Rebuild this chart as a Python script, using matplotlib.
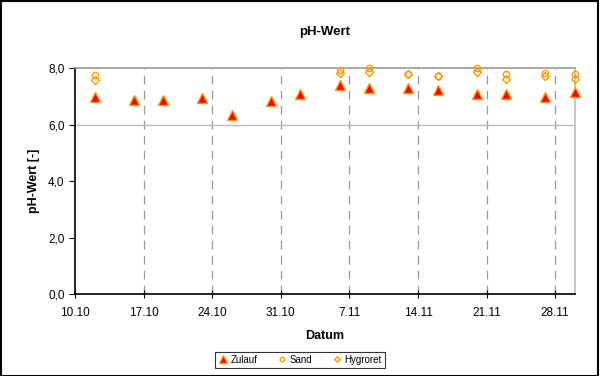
from datetime import datetime

import matplotlib

matplotlib.use("Agg")
import matplotlib.dates as mdates
import matplotlib.pyplot as plt
from matplotlib.patches import Rectangle

zulauf_dates = [
    "2005-10-12", "2005-10-16", "2005-10-19", "2005-10-23", "2005-10-26",
    "2005-10-30", "2005-11-02", "2005-11-06", "2005-11-09", "2005-11-13",
    "2005-11-16", "2005-11-20", "2005-11-23", "2005-11-27", "2005-11-30",
]
zulauf_ph = [7.0, 6.88, 6.88, 6.94, 6.34, 6.85, 7.11, 7.43, 7.29, 7.29, 7.25, 7.11, 7.11, 6.99, 7.17]

filter_dates = [
    "2005-10-12", "2005-11-06", "2005-11-09", "2005-11-13", "2005-11-16",
    "2005-11-20", "2005-11-23", "2005-11-27", "2005-11-30",
]
sand_ph = [7.76, 7.94, 8.03, 7.82, 7.73, 8.0, 7.82, 7.84, 7.82]
hygroret_ph = [7.6, 7.84, 7.88, 7.82, 7.73, 7.87, 7.63, 7.74, 7.63]

tick_dates = ["2005-10-10", "2005-10-17", "2005-10-24", "2005-10-31",
              "2005-11-07", "2005-11-14", "2005-11-21", "2005-11-28"]
tick_labels = ["10.10", "17.10", "24.10", "31.10", "7.11", "14.11", "21.11", "28.11"]
y_ticks = [0, 2, 4, 6, 8]
y_labels = ["0,0", "2,0", "4,0", "6,0", "8,0"]


def to_dt(values):
    return [datetime.strptime(v, "%Y-%m-%d") for v in values]


plt.rcParams["font.family"] = ["Liberation Sans", "DejaVu Sans"]
orange = "#FF9900"

fig = plt.figure(figsize=(6.0, 3.76), dpi=100)
ax = fig.add_axes([0.125, 0.218, 0.833, 0.600])

xt = to_dt(tick_dates)
for d in xt[1:]:
    ax.axvline(d, color="#999999", linewidth=0.9, linestyle=(0, (7, 5)), zorder=1)
ax.axhline(6, color="#BBBBBB", linewidth=1.0, zorder=1)

ax.plot(to_dt(filter_dates), sand_ph, linestyle="none", marker="o", markersize=4.5,
        markerfacecolor="none", markeredgecolor=orange, markeredgewidth=1.0,
        label="Sand", clip_on=False, zorder=3)
ax.plot(to_dt(filter_dates), hygroret_ph, linestyle="none", marker="D", markersize=4,
        markerfacecolor="none", markeredgecolor=orange, markeredgewidth=1.0,
        label="Hygroret", clip_on=False, zorder=3)
ax.plot(to_dt(zulauf_dates), zulauf_ph, linestyle="none", marker="^", markersize=7.5,
        markerfacecolor="red", markeredgecolor=orange, markeredgewidth=1.0,
        label="Zulauf", clip_on=False, zorder=4)

ax.set_xlim(datetime(2005, 10, 10), datetime(2005, 11, 30))
ax.set_ylim(0, 8)
ax.set_xticks(xt)
ax.set_xticklabels(tick_labels, fontsize=8.5)
ax.set_yticks(y_ticks)
ax.set_yticklabels(y_labels, fontsize=8.5)
ax.tick_params(axis="x", direction="inout", length=6, width=0.8, pad=6)
ax.tick_params(axis="y", direction="out", length=4, width=0.8)

ax.spines["left"].set_color("black")
ax.spines["bottom"].set_color("black")
ax.spines["top"].set_color("#999999")
ax.spines["right"].set_color("#BBBBBB")
for s in ax.spines.values():
    s.set_linewidth(1.2)

ax.set_title("pH-Wert", fontsize=9.5, fontweight="bold", pad=24)
ax.set_xlabel("Datum", fontsize=9, fontweight="bold", labelpad=8)
ax.set_ylabel("pH-Wert [-]", fontsize=9, fontweight="bold", labelpad=6)

handles, labels = ax.get_legend_handles_labels()
order = [2, 0, 1]
leg = fig.legend([handles[i] for i in order], [labels[i] for i in order],
                 loc="center", bbox_to_anchor=(0.5, 0.043), ncol=3, fontsize=7,
                 frameon=True, fancybox=False, edgecolor="black",
                 handlelength=1.0, handletextpad=0.3, columnspacing=2.0,
                 borderpad=0.3, markerscale=0.7)
leg.get_frame().set_linewidth(0.8)

fig.patches.append(Rectangle((0.002, 0.0), 0.994, 0.997, transform=fig.transFigure,
                             fill=False, edgecolor="black", linewidth=1.5))

fig.savefig("out.png", dpi=100)
